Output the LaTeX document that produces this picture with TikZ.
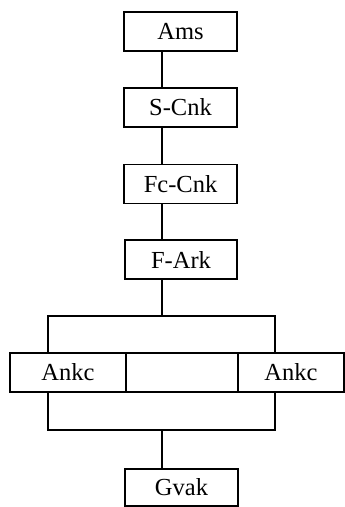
\documentclass[tikz,border=0pt]{standalone}
\usepackage{fontspec}
\setmainfont{Liberation Serif}
\tikzset{
  blk/.style={draw=black, line width=1.8pt, minimum height=39pt, inner sep=0pt, font=\fontsize{24.5}{27}\selectfont},
  link/.style={draw=black, line width=1.8pt}
}
\begin{document}
\begin{tikzpicture}[x=1pt, y=-1pt]
\useasboundingbox (0,0) rectangle (345,507);
% main chain
\node[blk, minimum width=113pt] (ams) at (180.5,31.5) {Ams};
\node[blk, minimum width=113pt] (scnk) at (180.5,107.5) {S-Cnk};
\node[blk, minimum width=113pt] (fccnk) at (180.5,184) {Fc-Cnk};
\node[blk, minimum width=112pt] (fark) at (181,259.5) {F-Ark};
% parallel row
\node[blk, minimum width=116pt] (ankcl) at (68,372.5) {Ankc};
\node[blk, minimum width=112pt] (mid) at (182,372.5) {};
\node[blk, minimum width=106pt] (ankcr) at (291,372.5) {Ankc};
\node[blk, minimum width=113pt, minimum height=37pt] (gvak) at (181.5,487.5) {Gvak};
\coordinate (spine) at (162,0);
\coordinate (lft) at (48,0);
\coordinate (rgt) at (275,0);
\coordinate (top) at (0,316);
\coordinate (bot) at (0,430);
\draw[link] (ams.south -| spine) -- (scnk.north -| spine);
\draw[link] (scnk.south -| spine) -- (fccnk.north -| spine);
\draw[link] (fccnk.south -| spine) -- (fark.north -| spine);
\draw[link] (fark.south -| spine) -- (top -| spine);
\draw[link] (ankcl.north -| lft) -- (top -| lft) -- (top -| rgt) -- (ankcr.north -| rgt);
\draw[link] (ankcl.south -| lft) -- (bot -| lft) -- (bot -| rgt) -- (ankcr.south -| rgt);
\draw[link] (bot -| spine) -- (gvak.north -| spine);
\end{tikzpicture}
\end{document}
